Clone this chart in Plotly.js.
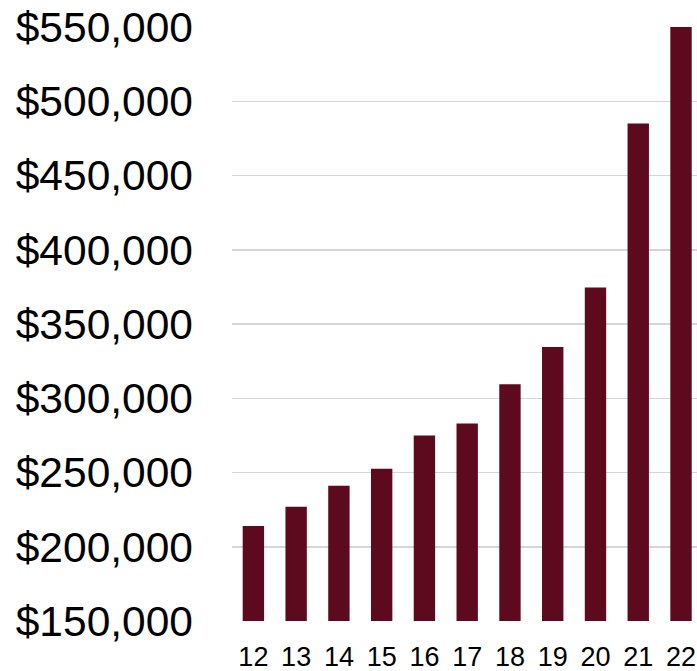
<!DOCTYPE html>
<html>
<head>
<meta charset="utf-8">
<script src="https://cdn.plot.ly/plotly-3.0.1.min.js"></script>
<style>html,body{margin:0;padding:0;background:#fff;}#chart{width:697px;height:671px;}</style>
</head>
<body>
<div id="chart"></div>
<script>
const categories = ["12","13","14","15","16","17","18","19","20","21","22"];
const values = [214000, 227000, 241000, 252500, 275000, 283000, 309500, 334500, 374500, 485000, 550000];
const yTicks = [150000, 200000, 250000, 300000, 350000, 400000, 450000, 500000, 550000];
const yTickLabels = ["$150,000","$200,000","$250,000","$300,000","$350,000","$400,000","$450,000","$500,000","$550,000"];

const trace = {
  type: "bar",
  x: categories,
  y: values,
  marker: {color: "#5E0A1E"},
  width: 0.5,
  hoverinfo: "x+y"
};

const layout = {
  width: 697,
  height: 671,
  margin: {l: 232, r: 0, t: 27, b: 50, pad: 0},
  paper_bgcolor: "#ffffff",
  plot_bgcolor: "#ffffff",
  showlegend: false,
  font: {family: "Liberation Sans, Arial, sans-serif", color: "#000000"},
  xaxis: {
    type: "category",
    range: [-0.5, 10.374],
    showgrid: false,
    showline: false,
    zeroline: false,
    ticks: "",
    tickfont: {size: 27, color: "#000000"},
    ticklabelstandoff: 17,
    fixedrange: true
  },
  yaxis: {
    range: [150000, 550000],
    tickmode: "array",
    tickvals: yTicks,
    ticktext: yTickLabels,
    showgrid: true,
    gridcolor: "#d6d6d6",
    gridwidth: 1.5,
    zeroline: false,
    showline: false,
    ticks: "",
    tickfont: {size: 42.5, color: "#000000"},
    ticklabelstandoff: 38,
    fixedrange: true
  }
};

Plotly.newPlot("chart", [trace], layout, {displayModeBar: false, staticPlot: true});
</script>
</body>
</html>
